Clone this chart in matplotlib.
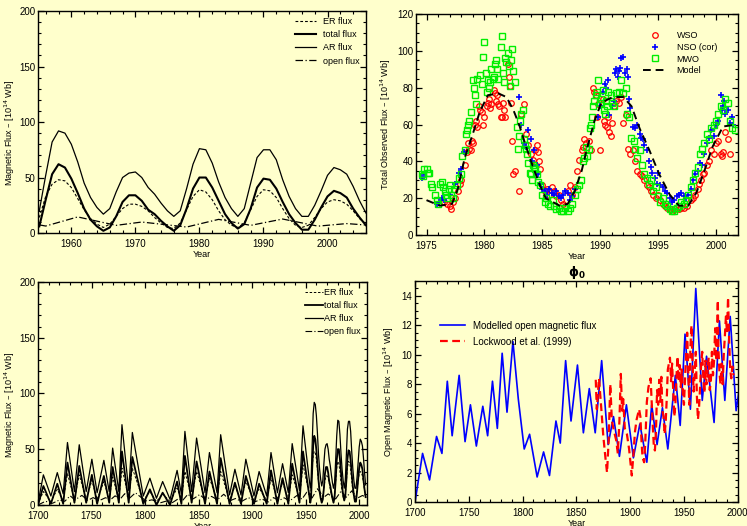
import numpy as np
import matplotlib
matplotlib.use('Agg')
import matplotlib.pyplot as plt
from matplotlib.ticker import MultipleLocator

plt.rcParams['font.family'] = ['Liberation Sans', 'DejaVu Sans']
plt.rcParams['lines.solid_joinstyle'] = 'round'
plt.rcParams['lines.dash_joinstyle'] = 'round'

BG = '#FFFFCC'

# ---------------- top-left: recent cycles, yearly values
recent_years = list(range(1955, 2007))
recent_upper = [20, 52, 82, 92, 90, 80, 64, 45, 32, 23, 17, 22, 37, 50, 54, 55, 50, 41, 35, 27,
                20, 15, 20, 40, 62, 76, 75, 63, 46, 32, 22, 15, 22, 45, 68, 75, 75, 66, 48, 33,
                22, 15, 15, 25, 38, 52, 59, 57, 53, 42, 29, 18]
recent_mid = [6, 30, 53, 62, 59, 49, 36, 22, 12, 6, 2, 5, 15, 28, 34, 34, 29, 21, 17, 11,
              6, 2, 7, 22, 40, 50, 50, 41, 29, 17, 9, 4, 8, 22, 41, 49, 48, 40, 28, 17,
              9, 3, 3, 12, 23, 33, 38, 36, 32, 22, 14, 7]
recent_er = [14, 33, 44, 48, 47, 41, 31, 21, 13, 8, 5, 8, 15, 22, 26, 26, 24, 20, 14, 9,
             5, 4, 9, 21, 33, 39, 37, 30, 20, 12, 7, 5, 9, 21, 33, 39, 38, 32, 22, 13,
             7, 5, 7, 14, 22, 28, 30, 29, 26, 20, 13, 8]

# ---------------- bottom-left: cycle minima / maxima 1700-1954
hist_years = [1700, 1705, 1712, 1718, 1723.5, 1727.5, 1734, 1738.5, 1745, 1750.3, 1755.2, 1761.5,
              1766.5, 1769.7, 1775.5, 1778.4, 1784.7, 1788.1, 1798.3, 1804.5, 1810.6, 1816.4,
              1823.3, 1829.9, 1833.9, 1837.2, 1843.5, 1848.1, 1856, 1860.1, 1867.2, 1870.6,
              1878.9, 1883.9, 1889.6, 1894.1, 1901.7, 1906.5, 1913.6, 1917.6, 1923.6, 1928.4,
              1933.8, 1937.4, 1944.2, 1947.5, 1954.3]
hist_upper = [2, 27, 8, 29, 10, 56, 12, 54, 12, 41, 11, 40, 12, 51, 12, 72, 13, 65, 8, 24, 6, 21,
              5, 31, 10, 66, 12, 60, 11, 47, 11, 63, 9, 32, 9, 41, 8, 30, 8, 47, 11, 37,
              11, 55, 13, 71, 15]
hist_mid = [0, 17, 1, 19, 1, 38, 2, 35, 2, 27, 1, 26, 2, 34, 2, 48, 2, 43, 1, 14, 0, 11,
            0, 21, 1, 44, 2, 39, 1, 30, 1, 42, 1, 20, 1, 26, 1, 19, 1, 31, 1, 24,
            1, 37, 2, 48, 2]
hist_er = [1, 12, 3, 14, 4, 28, 5, 27, 5, 22, 5, 21, 5, 25, 5, 33, 6, 33, 4, 12, 3, 10,
           3, 15, 5, 30, 6, 30, 5, 24, 5, 30, 4, 17, 4, 21, 4, 15, 4, 24, 5, 20,
           5, 27, 6, 36, 6]

# ---------------- open flux (model), turning points
open_years = [1700, 1707, 1713.5, 1720, 1725, 1730, 1734.5, 1741, 1746.5, 1751.5, 1757, 1763,
              1767.5, 1772, 1776.5, 1781, 1785.5, 1791, 1796, 1801.5, 1806.5, 1813.5, 1819.5,
              1825, 1831, 1835, 1840, 1845, 1851, 1856.5, 1862, 1867.5, 1873.5, 1879.5, 1884.5,
              1890, 1896.5, 1903, 1909, 1915.5, 1920, 1925, 1930, 1935, 1942, 1946.5, 1951,
              1956, 1961, 1967, 1971, 1978, 1983, 1988, 1993, 1998.5, 2003, 2006.5]
open_vals = [0.0, 3.3, 1.5, 4.45, 3.3, 8.2, 4.5, 8.6, 4.1, 6.6, 3.8, 6.5,
             4.5, 8.2, 5.0, 10.1, 6.1, 10.9, 7.0, 3.6, 4.6, 1.7, 3.4,
             1.8, 5.5, 4.0, 9.6, 5.5, 9.3, 4.7, 7.7, 4.7, 9.6, 3.9, 5.8,
             3.1, 6.6, 3.0, 5.3, 2.7, 6.6, 3.9, 6.4, 3.6, 8.6, 5.2, 11.4,
             6.3, 14.5, 6.9, 9.9, 5.4, 12.3, 6.9, 12.6, 6.2, 8.5, 7.0]

# ---------------- Lockwood et al. (1999)
lock_years = [1868, 1869, 1871, 1873, 1875, 1877, 1878.5, 1880, 1881.5, 1883, 1885, 1887, 1888.5,
              1890, 1891.3, 1892.5, 1893.5, 1895, 1897, 1899, 1901.5, 1903, 1904.5, 1906, 1908.3,
              1909.5, 1910.5, 1911.5, 1913, 1914, 1915.5, 1917, 1919, 1920, 1921, 1922, 1923,
              1924, 1925, 1926, 1927, 1928, 1929, 1930, 1931, 1932, 1933, 1934, 1935, 1937,
              1938, 1939, 1940, 1941, 1942, 1943, 1944, 1945, 1946, 1947, 1948, 1949, 1950,
              1951, 1952, 1953, 1954, 1955, 1956, 1957, 1958, 1959, 1960, 1961, 1962, 1963,
              1964, 1965, 1966, 1967, 1968, 1969, 1970, 1971, 1972, 1973, 1974, 1975, 1976,
              1977, 1978, 1979, 1980, 1981.5, 1982, 1983, 1984, 1985, 1986, 1987, 1988, 1989,
              1990, 1991, 1992, 1993, 1994, 1995, 1996]
lock_vals = [8.3, 6.3, 8.4, 6.5, 4.5, 3.0, 2.0, 4.2, 8.0, 5.5, 4.8, 4.2, 3.3,
             5.5, 8.7, 6.2, 7.0, 5.0, 4.6, 3.6, 1.8, 3.2, 4.8, 5.6, 6.3,
             5.8, 4.2, 3.0, 2.7, 4.0, 6.8, 7.8, 8.4, 6.8, 5.2, 3.8, 3.5,
             4.8, 7.6, 6.6, 8.3, 6.8, 8.5, 6.2, 5.8, 4.6, 5.4, 7.0, 9.0, 9.8,
             8.2, 9.4, 7.6, 5.8, 6.6, 8.4, 9.9, 8.2, 9.3, 7.8, 9.0, 7.2, 6.6,
             8.4, 10.0, 11.5, 8.8, 6.6, 10.5, 12.0, 9.4, 7.5, 8.8, 10.2, 7.2, 5.6,
             6.4, 7.8, 9.4, 10.2, 8.4, 7.4, 9.6, 8.0, 8.8, 9.8, 7.6, 8.2, 10.2,
             8.6, 9.6, 11.8, 9.6, 13.7, 10.5, 8.8, 8.0, 9.4, 8.0, 10.0, 11.2, 12.6,
             11.5, 13.9, 11.0, 9.0, 8.4, 9.2, 8.6]

# ---------------- top-right: observed total flux
wso_t = [1976.5, 1976.8, 1977.0, 1977.1, 1977.3, 1977.5, 1977.7, 1977.9, 1978.0, 1978.3, 1978.5,
         1978.6, 1978.7, 1978.8, 1978.9, 1979.0, 1979.2, 1979.3, 1979.4, 1979.5, 1979.6, 1979.8,
         1979.9, 1980.0, 1980.2, 1980.3, 1980.4, 1980.5, 1980.6, 1980.8, 1980.9, 1981.0, 1981.1,
         1981.2, 1981.3, 1981.4, 1981.5, 1981.6, 1981.7, 1981.8, 1982.0, 1982.1, 1982.2, 1982.3,
         1982.4, 1982.5, 1982.6, 1983.0, 1983.2, 1983.4, 1983.6, 1983.8, 1984.0, 1984.2, 1984.4,
         1984.5, 1984.6, 1984.7, 1984.8, 1985.0, 1985.2, 1985.4, 1985.6, 1985.8, 1986.0, 1986.2,
         1986.4, 1986.6, 1986.8, 1987.0, 1987.2, 1987.4, 1987.6, 1987.8, 1988.0, 1988.2, 1988.4,
         1988.5, 1988.6, 1988.8, 1989.0, 1989.2, 1989.4, 1989.5, 1989.6, 1989.7, 1989.8, 1990.0,
         1990.2, 1990.3, 1990.4, 1990.6, 1990.7, 1990.8, 1990.9, 1991.0, 1991.2, 1991.4, 1991.6,
         1991.8, 1992.0, 1992.2, 1992.4, 1992.6, 1992.8, 1993.0, 1993.2, 1993.4, 1993.6, 1993.8,
         1994.0, 1994.2, 1994.4, 1994.6, 1994.8, 1995.0, 1995.2, 1995.4, 1995.6, 1995.8, 1996.0,
         1996.2, 1996.5, 1996.8, 1997.0, 1997.2, 1997.5, 1997.8, 1998.0, 1998.2, 1998.4, 1998.5,
         1998.7, 1998.9, 1999.0, 1999.2, 1999.4, 1999.6, 1999.8, 2000.0, 2000.2, 2000.4, 2000.5,
         2000.6, 2000.8, 2001.0, 2001.2]
wso_v = [18, 17, 16, 14, 18, 20, 24, 28, 30, 38, 45,
         50, 47, 46, 51, 50, 60, 62, 59, 70, 68, 67,
         60, 64, 70, 72, 74, 69, 71, 79, 77, 73, 76,
         71, 70, 64, 64, 72, 68, 64, 93, 86, 81, 72,
         51, 33, 35, 24, 66, 71, 55, 49, 44, 41, 46,
         49, 45, 40, 36, 27, 24, 25, 22, 26, 24, 21,
         22, 19, 17, 16, 24, 27, 22, 26, 35, 41, 46,
         48, 52, 50, 51, 46, 80, 78, 76, 64, 71, 46,
         74, 62, 60, 59, 64, 56, 54, 61, 70, 73, 72,
         75, 61, 65, 47, 44, 46, 40, 35, 33, 32, 30,
         27, 26, 24, 22, 20, 22, 19, 17, 16, 15, 14,
         13, 14, 14, 15, 15, 16, 19, 20, 22, 25, 28,
         30, 33, 34, 38, 40, 46, 44, 50, 51, 44, 43,
         45, 56, 52, 44]

nso_t = [1974.6, 1974.8, 1975.9, 1976.1, 1976.3, 1976.5, 1977.0, 1977.5, 1977.8, 1978.0, 1978.2,
         1983.0, 1983.2, 1983.4, 1983.6, 1983.8, 1984.0, 1984.1, 1984.3, 1984.5, 1984.6, 1984.8,
         1985.0, 1985.2, 1985.4, 1985.6, 1985.8, 1986.0, 1986.2, 1986.4, 1986.6, 1986.8, 1987.0,
         1987.2, 1987.4, 1987.6, 1987.8, 1989.8, 1990.0, 1990.2, 1990.4, 1990.5, 1990.7, 1990.8,
         1991.0, 1991.2, 1991.3, 1991.4, 1991.5, 1991.6, 1991.7, 1991.8, 1992.0, 1992.1, 1992.3,
         1992.4, 1992.5, 1992.6, 1992.8, 1993.0, 1993.2, 1993.4, 1993.5, 1993.7, 1993.8, 1994.0,
         1994.2, 1994.4, 1994.5, 1994.7, 1994.9, 1995.0, 1995.2, 1995.4, 1995.6, 1995.8, 1996.0,
         1996.2, 1996.4, 1996.6, 1996.8, 1997.0, 1997.2, 1997.4, 1997.6, 1997.8, 1998.0, 1998.2,
         1998.4, 1998.6, 1998.8, 1999.0, 1999.2, 1999.4, 1999.6, 1999.8, 2000.0, 2000.2, 2000.4,
         2000.5, 2000.6, 2000.7, 2000.8, 2001.0, 2001.2, 2001.4, 2001.5]
nso_v = [31, 33, 17, 18, 20, 19, 22, 28, 34, 36, 45,
         75, 60, 50, 48, 57, 52, 40, 46, 38, 33, 28,
         25, 24, 22, 25, 23, 22, 24, 21, 20, 22, 24,
         23, 19, 21, 25, 64, 70, 78, 82, 80, 84, 65,
         70, 73, 88, 90, 86, 89, 91, 96, 97, 88, 90,
         86, 74, 69, 59, 58, 60, 55, 53, 52, 49, 46,
         40, 37, 34, 31, 28, 34, 27, 26, 24, 23, 20,
         18, 19, 21, 22, 23, 21, 20, 22, 25, 30, 33,
         35, 39, 38, 44, 50, 53, 57, 54, 60, 62, 76,
         68, 70, 73, 66, 68, 61, 64, 60]

mwo_t = [1974.6, 1974.7, 1974.8, 1975.0, 1975.1, 1975.2, 1975.4, 1975.5, 1975.7, 1975.9, 1976.0,
         1976.2, 1976.3, 1976.4, 1976.6, 1976.7, 1976.8, 1976.9, 1977.0, 1977.1, 1977.3, 1977.4,
         1977.6, 1977.8, 1978.0, 1978.1, 1978.3, 1978.4, 1978.5, 1978.6, 1978.7, 1978.8, 1979.0,
         1979.1, 1979.2, 1979.3, 1979.4, 1979.6, 1979.8, 1979.9, 1980.0, 1980.1, 1980.2, 1980.3,
         1980.4, 1980.5, 1980.6, 1980.7, 1980.8, 1980.9, 1981.0, 1981.1, 1981.2, 1981.4, 1981.5,
         1981.6, 1981.7, 1981.8, 1981.9, 1982.0, 1982.1, 1982.2, 1982.3, 1982.4, 1982.5, 1982.6,
         1982.8, 1982.9, 1983.0, 1983.1, 1983.2, 1983.3, 1983.4, 1983.5, 1983.6, 1983.7, 1983.8,
         1983.9, 1984.0, 1984.1, 1984.2, 1984.3, 1984.4, 1984.5, 1984.6, 1984.8, 1985.0, 1985.2,
         1985.3, 1985.5, 1985.7, 1985.9, 1986.0, 1986.2, 1986.4, 1986.6, 1986.8, 1987.0, 1987.2,
         1987.4, 1987.6, 1987.8, 1988.0, 1988.2, 1988.3, 1988.5, 1988.6, 1988.8, 1988.9, 1989.0,
         1989.1, 1989.2, 1989.3, 1989.4, 1989.5, 1989.6, 1989.7, 1989.8, 1990.0, 1990.1, 1990.2,
         1990.3, 1990.4, 1990.5, 1990.6, 1990.7, 1990.9, 1991.0, 1991.2, 1991.4, 1991.6, 1991.8,
         1992.0, 1992.2, 1992.3, 1992.5, 1992.7, 1992.9, 1993.0, 1993.2, 1993.4, 1993.6, 1993.8,
         1994.0, 1994.2, 1994.4, 1994.6, 1994.8, 1995.0, 1995.2, 1995.4, 1995.6, 1995.8, 1996.0,
         1996.2, 1996.4, 1996.6, 1996.8, 1997.0, 1997.2, 1997.4, 1997.6, 1997.8, 1998.0, 1998.2,
         1998.4, 1998.6, 1998.8, 1999.0, 1999.2, 1999.4, 1999.6, 1999.8, 2000.0, 2000.2, 2000.4,
         2000.6, 2000.8, 2001.0, 2001.2, 2001.4, 2001.6]
mwo_v = [33, 32, 36, 36, 34, 34, 28, 26, 22, 19, 17,
         28, 29, 26, 24, 22, 20, 25, 27, 22, 20, 25,
         27, 31, 33, 43, 46, 55, 57, 60, 62, 67, 84,
         80, 76, 71, 85, 87, 82, 97, 105, 88, 78, 84,
         80, 83, 90, 85, 86, 93, 95, 90, 85, 102, 108,
         88, 83, 96, 94, 99, 92, 81, 95, 101, 89, 83,
         59, 47, 54, 62, 66, 68, 52, 49, 47, 44, 39,
         34, 33, 30, 38, 37, 36, 33, 29, 27, 22, 18,
         20, 17, 16, 19, 16, 14, 15, 13, 13, 15, 13,
         15, 17, 22, 25, 27, 30, 40, 42, 48, 43, 47,
         58, 60, 64, 70, 73, 76, 78, 84, 72, 74, 79,
         68, 66, 73, 70, 78, 76, 72, 70, 77, 78, 84,
         77, 80, 66, 64, 53, 51, 47, 42, 46, 38, 33,
         31, 28, 30, 24, 26, 21, 18, 20, 17, 16, 14,
         13, 13, 15, 16, 18, 17, 19, 22, 26, 30, 34,
         37, 44, 47, 50, 55, 52, 58, 60, 62, 66, 70,
         68, 74, 72, 62, 58, 57]

model_t = [1975.0, 1976.15, 1977.2, 1977.7, 1978.3, 1979.0, 1979.6, 1980.3, 1981.2, 1981.9, 1982.5,
           1983.0, 1983.6, 1984.2, 1984.8, 1985.3, 1986.5, 1987.2, 1987.8, 1988.4, 1988.9, 1989.5,
           1990.1, 1991.1, 1992.0, 1992.7, 1993.4, 1994.25, 1995.1, 1996.0, 1996.8, 1997.6, 1998.3,
           1999.0, 1999.7, 2000.6, 2001.7]
model_v = [19, 16, 17, 25, 42, 55, 67, 76, 77, 75, 68,
           60, 48, 37, 27, 20, 16, 17, 24, 35, 48, 62,
           72, 75, 75, 70, 58, 46, 33, 22, 16, 16, 23,
           35, 48, 59, 60]


def style(ax, xmaj, xmin, ymaj, ymin):
    ax.set_facecolor(BG)
    ax.xaxis.set_major_locator(MultipleLocator(xmaj))
    ax.xaxis.set_minor_locator(MultipleLocator(xmin))
    ax.yaxis.set_major_locator(MultipleLocator(ymaj))
    ax.yaxis.set_minor_locator(MultipleLocator(ymin))
    ax.tick_params(which='both', direction='in', top=True, right=True, labelsize=7)
    ax.tick_params(axis='x', pad=4)
    ax.tick_params(axis='y', pad=2)
    ax.tick_params(which='major', length=4, width=0.9)
    ax.tick_params(which='minor', length=2.2, width=0.8)
    for s in ax.spines.values():
        s.set_linewidth(1.0)


fig = plt.figure(figsize=(7.47, 5.26), dpi=100, facecolor=BG)

er_ls = (0, (2.5, 1.8))
open_ls = (0, (6, 2, 1, 2))

# top-left
ax1 = fig.add_axes([0.0509, 0.557, 0.439, 0.422])
ax1.plot(recent_years, recent_er, color='k', lw=0.8, ls=er_ls, label='ER flux')
ax1.plot(recent_years, recent_mid, color='k', lw=1.5, label='total flux')
ax1.plot(recent_years, recent_upper, color='k', lw=0.9, label='AR flux')
ax1.plot(open_years, open_vals, color='k', lw=0.9, ls=open_ls, label='open flux')
ax1.set_xlim(1954.8, 2006)
ax1.set_ylim(0, 200)
style(ax1, 10, 2, 50, 10)
ax1.set_xlabel('Year', fontsize=6.5, labelpad=1)
ax1.set_ylabel('Magnetic Flux \u2013 [10$^{14}$ Wb]', fontsize=6.5)
ax1.yaxis.set_label_coords(-0.064, 0.45)
ax1.legend(loc='upper right', frameon=False, fontsize=6.5, handlelength=2.3,
           handletextpad=0.8, labelspacing=0.45, borderaxespad=0.3)

# top-right
ax2 = fig.add_axes([0.557, 0.553, 0.431, 0.420])
ax2.plot(wso_t, wso_v, 'o', ms=4, mfc='none', mec='#FF0000', mew=0.9, label='WSO')
ax2.plot(nso_t, nso_v, '+', ms=5, mec='#0000FF', mew=1.2, label='NSO (cor)')
ax2.plot(mwo_t, mwo_v, 's', ms=3.8, mfc='none', mec='#00EE00', mew=1.0, label='MWO')
ax2.plot(model_t, model_v, color='k', lw=1.4, ls=(0, (4, 2.5)), label='Model')
ax2.set_xlim(1974.1, 2001.9)
ax2.set_ylim(0, 120)
style(ax2, 5, 1, 20, 5)
ax2.set_xlabel('Year', fontsize=6.5, labelpad=1)
ax2.set_ylabel('Total Observed Flux \u2013 [10$^{14}$ Wb]', fontsize=6.5)
ax2.yaxis.set_label_coords(-0.073, 0.5)
ax2.legend(loc='upper right', bbox_to_anchor=(0.96, 0.96), frameon=False, fontsize=6.5,
           handlelength=2.5, handletextpad=1.2, labelspacing=0.3)

# bottom-left
ax3 = fig.add_axes([0.0509, 0.040, 0.440, 0.424])
all_years = np.concatenate([hist_years, recent_years])
ax3.plot(all_years, np.concatenate([hist_er, recent_er]), color='k', lw=0.7, ls=er_ls, label='ER flux')
ax3.plot(all_years, np.concatenate([hist_mid, recent_mid]), color='k', lw=1.3, label='total flux')
ax3.plot(all_years, np.concatenate([hist_upper, recent_upper]), color='k', lw=0.9, label='AR flux')
ax3.plot(open_years, open_vals, color='k', lw=0.8, ls=open_ls, label='open flux')
ax3.set_xlim(1700, 2007)
ax3.set_ylim(0, 200)
style(ax3, 50, 10, 50, 10)
ax3.set_xlabel('Year', fontsize=6.5, labelpad=1)
ax3.set_ylabel('Magnetic Flux \u2013 [10$^{14}$ Wb]', fontsize=6.5)
ax3.yaxis.set_label_coords(-0.064, 0.45)
ax3.legend(loc='upper right', frameon=False, fontsize=6.5, handlelength=2.0,
           handletextpad=0.1, labelspacing=0.45, borderaxespad=0.3)

# bottom-right
ax4 = fig.add_axes([0.5556, 0.0456, 0.432, 0.420])
ax4.plot(open_years, open_vals, color='#0000FF', lw=1.2, label='Modelled open magnetic flux')
ax4.plot(lock_years, lock_vals, color='#FF0000', lw=1.6, ls=(0, (3.5, 2)), label='Lockwood et al. (1999)')
ax4.set_xlim(1700, 2000)
ax4.set_ylim(0, 15)
style(ax4, 50, 10, 2, 0.5)
ax4.set_xlabel('Year', fontsize=6.5, labelpad=1)
ax4.set_ylabel('Open Magnetic Flux \u2013 [10$^{14}$ Wb]', fontsize=6.5)
ax4.yaxis.set_label_coords(-0.060, 0.5)
ax4.set_title(r'$\mathbf{\phi_0}$', fontsize=9, pad=2)
ax4.legend(loc='upper left', bbox_to_anchor=(0.05, 0.86), frameon=False, fontsize=7,
           handlelength=2.6, handletextpad=0.8, labelspacing=0.6)

fig.savefig('out.png', dpi=100, facecolor=BG)
